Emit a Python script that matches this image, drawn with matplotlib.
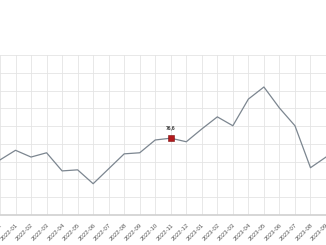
import matplotlib
matplotlib.use("Agg")
import matplotlib.pyplot as plt

months = ["2021-12", "2022-01", "2022-02", "2022-03", "2022-04", "2022-05", "2022-06",
          "2022-07", "2022-08", "2022-09", "2022-10", "2022-11", "2022-12",
          "2023-01", "2023-02", "2023-03", "2023-04", "2023-05", "2023-06",
          "2023-07", "2023-08", "2023-09"]
values = [70.5, 73.2, 71.3, 72.5, 67.4, 67.7, 63.8, 68.0, 72.2, 72.5, 76.1, 76.6, 75.6,
          79.2, 82.6, 80.1, 87.6, 91.0, 85.1, 80.1, 68.3, 71.3]
highlight_label = "2022-11"
highlight_text = "76,6"

plt.rcParams['font.family'] = ['Liberation Sans', 'DejaVu Sans']

fig = plt.figure(figsize=(3.26, 2.45), dpi=100)
ax = fig.add_axes([0, 30 / 245, 1, 160 / 245])

x = list(range(-1, len(months) - 1))
ax.plot(x, values, color='#7c8690', lw=0.9, zorder=3, clip_on=True)

hi = months.index(highlight_label)
ax.plot([x[hi]], [values[hi]], marker='s', ms=4.4, color='#b3191c',
        markeredgecolor='#7a0f10', markeredgewidth=0.4, zorder=4)
ax.annotate(highlight_text, (x[hi], values[hi]), xytext=(0, 5.5),
            textcoords='offset points', ha='center', va='bottom',
            fontsize=3.6, fontweight='bold', color='#333333')

ax.set_xlim(-0.43, 19.74)
ax.set_ylim(55, 100)
ax.set_yticks(range(55, 101, 5))
ax.set_xticks(x)
ax.set_xticklabels(months, rotation=45, ha='right', rotation_mode='anchor',
                   fontsize=4.3, color='#555555')
ax.tick_params(axis='x', length=0, pad=5.5)
ax.tick_params(axis='y', length=0, labelleft=False)
ax.grid(True, color='#e4e4e4', lw=0.6)
ax.set_axisbelow(True)
for s in ['top', 'left', 'right']:
    ax.spines[s].set_visible(False)
ax.spines['bottom'].set_color('#d0d0d0')
ax.spines['bottom'].set_linewidth(1.2)

fig.savefig('out.png', dpi=100)
